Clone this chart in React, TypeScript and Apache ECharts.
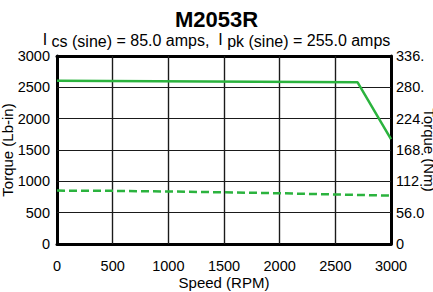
import React, { useEffect, useRef } from "react";
import * as echarts from "echarts";

const speedGrid = [500, 1000, 1500, 2000, 2500];
const torqueGrid = [500, 1000, 1500, 2000, 2500];
const peakSpeed = [0, 2700, 3000];
const peakTorque = [2605, 2580, 1675];
const contSpeed = [0, 500, 1000, 1500, 2000, 2500, 3000];
const contTorque = [852, 848, 838, 825, 810, 790, 772];
const rightTickLabels = ["0", "56.0", "112.", "168.", "224.", "280.", "336."];

const FONT = "Liberation Sans, Arial, sans-serif";
const GREEN = "#2bb33e";
const GRID_LINE = { color: "#1a1a1a", width: 1.2, type: "solid", opacity: 1 };

export default function App() {
  const ref = useRef<HTMLDivElement>(null);
  useEffect(() => {
    if (!ref.current) return;
    const chart = echarts.init(ref.current, undefined, { renderer: "svg" });
    const base = { fontFamily: FONT, fontSize: 16, fontWeight: "normal", color: "#000", lineHeight: 16 };
    chart.setOption({
      animation: false,
      textStyle: { fontFamily: FONT },
      title: [
        {
          text: "M2053R",
          left: "center",
          top: 3,
          textStyle: { fontFamily: FONT, fontSize: 22, fontWeight: "bold", color: "#000" },
        },
        {
          text: "{i|I }{s|cs (sine)}{n| = 85.0 amps,  }{i|I }{s|pk (sine)}{n| = 255.0 amps}",
          left: "center",
          top: 27,
          textStyle: {
            ...base,
            rich: {
              n: { ...base },
              i: { ...base, padding: [0, 0, 2, 0] },
              s: { ...base, padding: [2, 0, 0, 0] },
            },
          },
        },
      ],
      grid: {
        left: 57,
        right: 42,
        top: 56,
        bottom: 48,
        outerBoundsMode: "none",
        containLabel: false,
        show: false,
      },
      xAxis: [
        {
          type: "value",
          min: 0,
          max: 3000,
          interval: 500,
          name: "Speed (RPM)",
          nameLocation: "middle",
          nameGap: 31,
          nameMoveOverlap: false,
          nameTextStyle: { fontFamily: FONT, fontSize: 15, color: "#000" },
          axisLine: { show: true, onZero: false, lineStyle: { color: "#000", width: 3 } },
          axisTick: { show: false },
          axisLabel: { fontFamily: FONT, fontSize: 14.5, color: "#000", margin: 14, formatter: (v: number) => String(v) },
          splitLine: { show: true, lineStyle: GRID_LINE },
        },
        {
          type: "value",
          position: "top",
          min: 0,
          max: 3000,
          interval: 500,
          axisLine: { show: true, onZero: false, lineStyle: { color: "#000", width: 3 } },
          axisTick: { show: false },
          axisLabel: { show: false },
          splitLine: { show: false },
        },
      ],
      yAxis: [
        {
          type: "value",
          min: 0,
          max: 3000,
          interval: 500,
          name: "Torque (Lb-in)",
          nameLocation: "middle",
          nameGap: 42,
          nameRotate: 90,
          nameMoveOverlap: false,
          nameTextStyle: { fontFamily: FONT, fontSize: 15, color: "#000" },
          axisLine: { show: true, onZero: false, lineStyle: { color: "#000", width: 3 } },
          axisTick: { show: false },
          axisLabel: { fontFamily: FONT, fontSize: 14.5, color: "#000", margin: 7, formatter: (v: number) => String(v) },
          splitLine: { show: true, lineStyle: GRID_LINE },
        },
        {
          type: "value",
          min: 0,
          max: 336,
          interval: 56,
          position: "right",
          name: "Torque (Nm)",
          nameLocation: "middle",
          nameGap: 31,
          nameRotate: -90,
          nameMoveOverlap: false,
          nameTextStyle: { fontFamily: FONT, fontSize: 15, color: "#000" },
          axisLine: { show: true, onZero: false, lineStyle: { color: "#000", width: 3 } },
          axisTick: { show: false },
          axisLabel: {
            fontFamily: FONT,
            fontSize: 14.5,
            color: "#000",
            margin: 5,
            formatter: (v: number) => rightTickLabels[Math.round(v / 56)] ?? String(v),
          },
          splitLine: { show: false },
        },
      ],
      series: [
        {
          type: "line",
          data: [[0, 0]],
          symbol: "none",
          lineStyle: { opacity: 0 },
          silent: true,
          z: 1,
          markLine: {
            silent: true,
            symbol: "none",
            label: { show: false },
            lineStyle: GRID_LINE,
            emphasis: { disabled: true },
            data: [
              ...speedGrid.map((v) => ({ xAxis: v })),
              ...torqueGrid.map((v) => ({ yAxis: v })),
            ],
          },
        },
        {
          type: "line",
          data: peakSpeed.map((s, i) => [s, peakTorque[i]]),
          symbol: "none",
          lineStyle: { color: GREEN, width: 2.5 },
          z: 5,
        },
        {
          type: "line",
          data: contSpeed.map((s, i) => [s, contTorque[i]]),
          symbol: "none",
          lineStyle: { color: GREEN, width: 2.5, type: [8, 4] },
          z: 5,
        },
      ],
    });
    return () => chart.dispose();
  }, []);
  return <div ref={ref} style={{ width: 433, height: 292, position: "absolute", left: 0, top: 0 }} />;
}
